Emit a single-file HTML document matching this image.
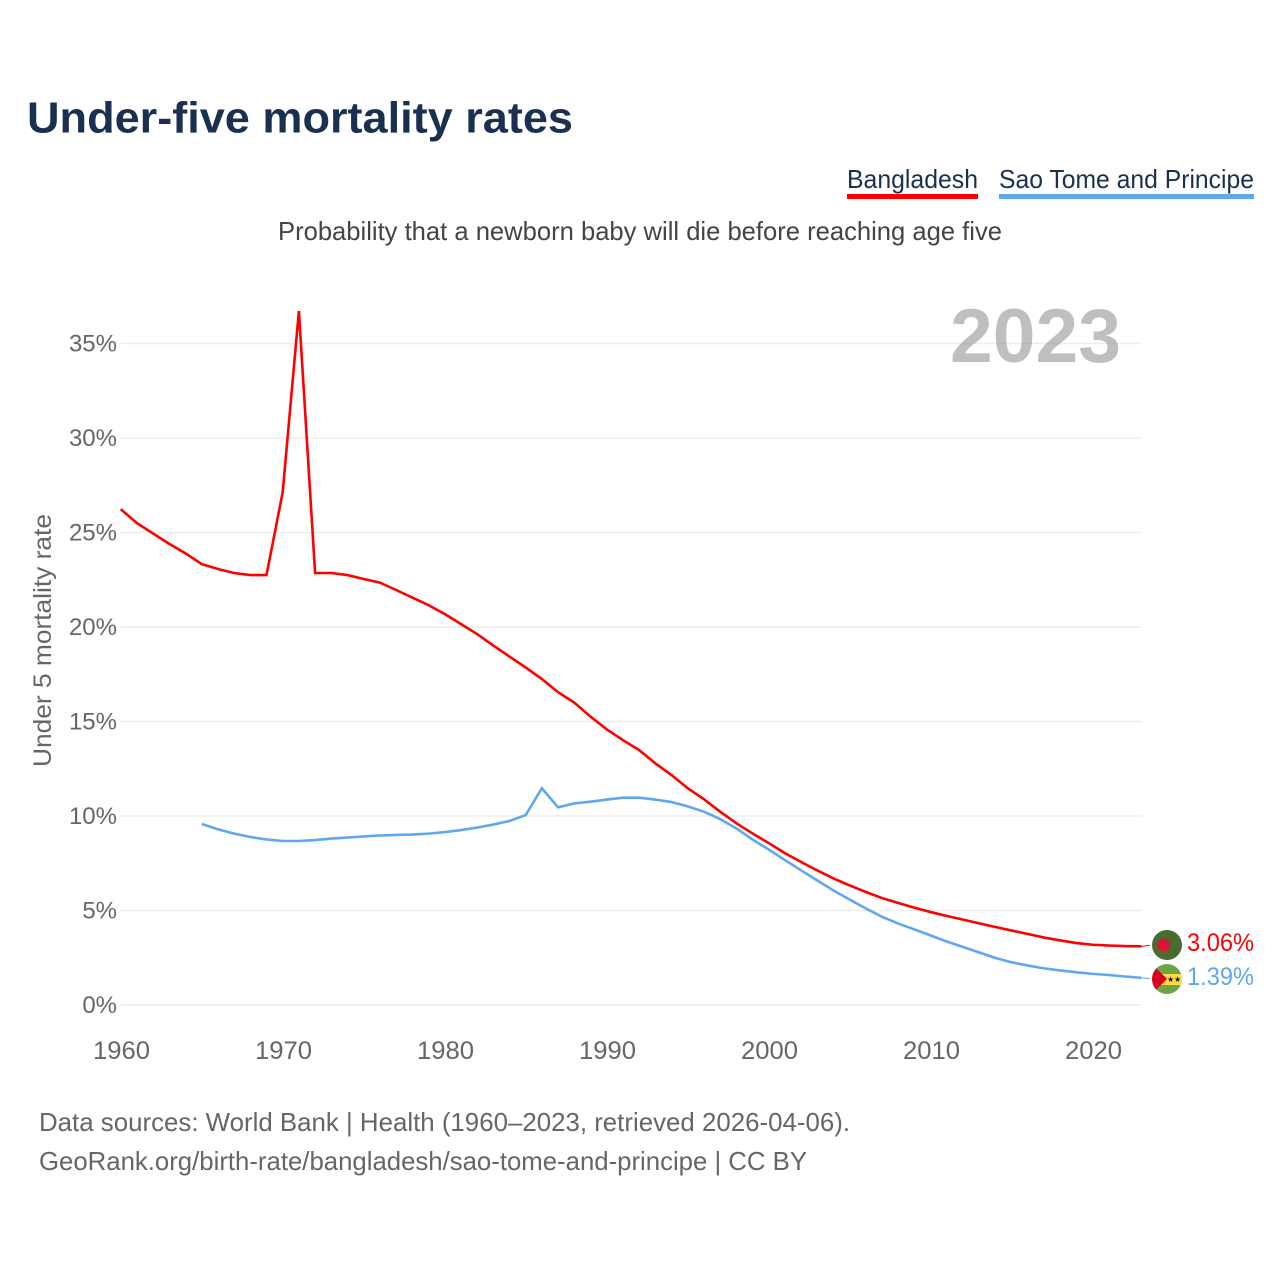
<!DOCTYPE html>
<html lang="en">
<head>
<meta charset="utf-8">
<title>Under-five mortality rates</title>
<style>
html,body{margin:0;padding:0;background:#fff;width:1280px;height:1280px;overflow:hidden}
svg{display:block}
text{font-family:"Liberation Sans",sans-serif}
</style>
</head>
<body>
<svg id="chart" xmlns="http://www.w3.org/2000/svg" width="1280" height="1280" viewBox="0 0 1280 1280">
  <rect width="1280" height="1280" fill="#fff"/>
  <text x="27" y="132.5" font-size="44" font-weight="700" fill="#1a3050" textLength="546" lengthAdjust="spacingAndGlyphs">Under-five mortality rates</text>
  <text x="847" y="188" font-size="26" fill="#1a3050" textLength="131" lengthAdjust="spacingAndGlyphs">Bangladesh</text>
  <rect x="847" y="194" width="131" height="5" fill="#ff0000"/>
  <text x="999" y="188" font-size="26" fill="#1a3050" textLength="255" lengthAdjust="spacingAndGlyphs">Sao Tome and Principe</text>
  <rect x="999" y="194" width="255" height="5" fill="#5fa8ee"/>
  <text x="278" y="240" font-size="26" fill="#444" textLength="724" lengthAdjust="spacingAndGlyphs">Probability that a newborn baby will die before reaching age five</text>
  <g id="grid"></g>
  <g id="yticks"></g>
  <g id="xticks"></g>
  <text x="950" y="362" font-size="76" font-weight="700" fill="#808080" fill-opacity="0.5" textLength="171" lengthAdjust="spacingAndGlyphs">2023</text>
  <text transform="translate(51,767) rotate(-90)" font-size="25" fill="#666" textLength="253" lengthAdjust="spacingAndGlyphs">Under 5 mortality rate</text>
  <g id="series"></g>
  <defs>
    <clipPath id="clip-st"><circle cx="1167" cy="979" r="15"/></clipPath>
  </defs>
  <g>
    <circle cx="1167" cy="945" r="15" fill="#4a6c2f"/>
    <circle cx="1163.7" cy="945" r="6.5" fill="#dc143c"/>
  </g>
  <g clip-path="url(#clip-st)">
    <rect x="1150" y="962" width="34" height="34" fill="#6da544"/>
    <rect x="1150" y="974" width="34" height="11" fill="#ffda44"/>
    <polygon points="1152,964 1167,979 1152,994" fill="#d80027"/>
    <text x="1167" y="982" font-size="8" fill="#111">★</text>
    <text x="1174" y="982" font-size="8" fill="#111">★</text>
  </g>
  <text x="1187" y="951" font-size="25" fill="#ff0000" textLength="67" lengthAdjust="spacingAndGlyphs">3.06%</text>
  <text x="1187" y="985" font-size="25" fill="#5fa8ee" textLength="67" lengthAdjust="spacingAndGlyphs">1.39%</text>
  <text x="39" y="1131" font-size="26" fill="#666" textLength="811" lengthAdjust="spacingAndGlyphs">Data sources: World Bank | Health (1960–2023, retrieved 2026-04-06).</text>
  <text x="39" y="1170" font-size="26" fill="#666" textLength="768" lengthAdjust="spacingAndGlyphs">GeoRank.org/birth-rate/bangladesh/sao-tome-and-principe | CC BY</text>
</svg>
<script>
const yTickValues = [0, 5, 10, 15, 20, 25, 30, 35];
const xTickValues = [1960, 1970, 1980, 1990, 2000, 2010, 2020];
const bangladeshStart = 1960;
const bangladeshValues = [26.19,25.45,24.9,24.35,23.85,23.28,23.02,22.81,22.7,22.7,27.09,36.67,22.81,22.81,22.7,22.49,22.3,21.91,21.51,21.11,20.64,20.11,19.58,18.97,18.39,17.81,17.2,16.5,15.95,15.21,14.54,13.97,13.44,12.74,12.12,11.42,10.84,10.18,9.57,9.03,8.52,7.99,7.52,7.07,6.65,6.28,5.93,5.61,5.35,5.10,4.87,4.66,4.47,4.27,4.08,3.89,3.71,3.52,3.37,3.23,3.14,3.10,3.07,3.06];
const saoTomeStart = 1965;
const saoTomeValues = [9.53,9.25,9.02,8.84,8.71,8.63,8.63,8.68,8.76,8.81,8.87,8.92,8.95,8.97,9.02,9.1,9.21,9.34,9.5,9.69,10.0,11.42,10.41,10.62,10.71,10.82,10.92,10.92,10.82,10.69,10.46,10.18,9.79,9.30,8.71,8.18,7.62,7.08,6.54,6.01,5.53,5.06,4.62,4.26,3.95,3.63,3.31,3.02,2.73,2.44,2.21,2.04,1.89,1.78,1.68,1.60,1.54,1.46,1.39];

const NS = 'http://www.w3.org/2000/svg';
function xScale(year) { return 120.7 + (year - 1960) * 16.2; }
function yScale(pct) { return 1005 - pct * 18.9; }
function yLine(pct) { return 1004.1 - pct * 18.9; }

const gridGroup = document.getElementById('grid');
const yGroup = document.getElementById('yticks');
const xGroup = document.getElementById('xticks');
const seriesGroup = document.getElementById('series');

yTickValues.forEach(function (v) {
  const line = document.createElementNS(NS, 'line');
  
  
  line.setAttribute('x1', xScale(1960));
  line.setAttribute('x2', xScale(2023) + 0.4);
  line.setAttribute('y1', yScale(v));
  line.setAttribute('y2', yScale(v));
  line.setAttribute('stroke', '#eeeeee');
  line.setAttribute('stroke-width', '1.6');
  gridGroup.appendChild(line);
  const t = document.createElementNS(NS, 'text');
  
  
  t.setAttribute('x', 117);
  t.setAttribute('y', yScale(v) + 7.8);
  t.setAttribute('text-anchor', 'end');
  t.setAttribute('font-size', '24');
  t.setAttribute('fill', '#666');
  t.textContent = v + '%';
  yGroup.appendChild(t);
});

xTickValues.forEach(function (v) {
  const t = document.createElementNS(NS, 'text');
  
  
  t.setAttribute('x', xScale(v) + 0.8);
  t.setAttribute('y', 1059);
  t.setAttribute('text-anchor', 'middle');
  t.setAttribute('font-size', '25');
  t.setAttribute('fill', '#666');
  t.setAttribute('textLength', '57');
  t.setAttribute('lengthAdjust', 'spacingAndGlyphs');
  t.textContent = String(v);
  xGroup.appendChild(t);
});

function linePoints(start, values) {
  return values.map(function (v, i) {
    return xScale(start + i).toFixed(2) + ',' + yLine(v).toFixed(2);
  }).join(' ');
}

const bdLine = document.createElementNS(NS, 'polyline');


bdLine.setAttribute('points', linePoints(bangladeshStart, bangladeshValues));
bdLine.setAttribute('fill', 'none');
bdLine.setAttribute('stroke', '#ff0000');
bdLine.setAttribute('stroke-width', '2.6');
seriesGroup.appendChild(bdLine);

const stLine = document.createElementNS(NS, 'polyline');


stLine.setAttribute('points', linePoints(saoTomeStart, saoTomeValues));
stLine.setAttribute('fill', 'none');
stLine.setAttribute('stroke', '#5fa8ee');
stLine.setAttribute('stroke-width', '2.6');
seriesGroup.appendChild(stLine);

const bdLast = bangladeshValues[bangladeshValues.length - 1];
const stLast = saoTomeValues[saoTomeValues.length - 1];

const bdLeader = document.createElementNS(NS, 'line');


bdLeader.setAttribute('x1', xScale(2023));
bdLeader.setAttribute('y1', yLine(bdLast));
bdLeader.setAttribute('x2', 1150);
bdLeader.setAttribute('y2', 945.4);
bdLeader.setAttribute('stroke', '#ff0000');
bdLeader.setAttribute('stroke-width', '1');
seriesGroup.appendChild(bdLeader);

const stLeader = document.createElementNS(NS, 'line');


stLeader.setAttribute('x1', xScale(2023));
stLeader.setAttribute('y1', yLine(stLast));
stLeader.setAttribute('x2', 1150);
stLeader.setAttribute('y2', 978.7);
stLeader.setAttribute('stroke', '#5fa8ee');
stLeader.setAttribute('stroke-width', '1');
seriesGroup.appendChild(stLeader);
</script>
</body>
</html>
